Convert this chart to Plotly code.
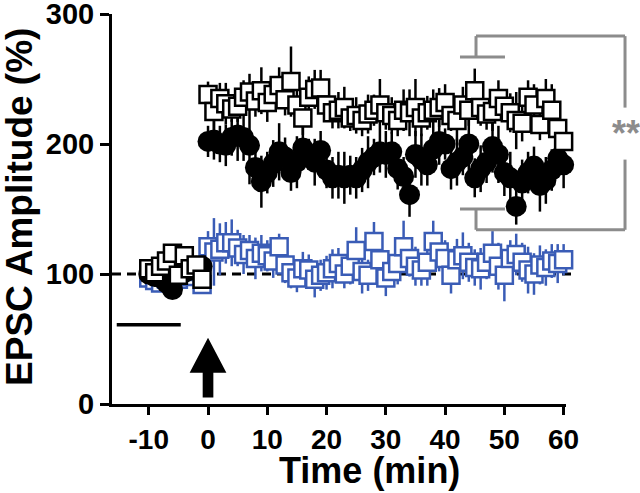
import plotly.graph_objects as go

# ---- data ----
t_base = list(range(-10, 0))
t_post = list(range(0, 61))
time = t_base + t_post

sq_base = [104, 101, 106, 110, 116, 99, 114, 104, 107, 96]
sq_post = [238, 225, 235, 231, 227, 229, 236, 240, 233, 241,
           232, 238, 245, 234, 248, 230, 220, 236, 242, 243,
           230, 224, 226, 228, 220, 222, 218, 223, 226, 230,
           224, 222, 218, 226, 224, 228, 220, 224, 226, 228,
           232, 222, 218, 230, 226, 241, 228, 223, 225, 235,
           229, 224, 218, 216, 236, 230, 215, 235, 226, 212,
           202]
sq_err_base = [4, 4, 5, 4, 6, 4, 5, 4, 5, 4]
sq_err_post = [10, 14, 12, 16, 10, 12, 13, 14, 12, 18,
               15, 12, 14, 12, 27, 15, 13, 16, 15, 14,
               13, 12, 14, 16, 10, 14, 12, 15, 12, 20,
               13, 14, 12, 16, 18, 22, 14, 13, 16, 15,
               14, 12, 16, 14, 12, 17, 14, 12, 15, 14,
               12, 15, 22, 14, 13, 16, 12, 15, 20, 18,
               12]

ci_base = [100, 98, 97, 93, 88, 99, 101, 103, 106, 106]
ci_post = [202, 203, 200, 199, 205, 207, 205, 199, 182, 171,
           178, 185, 194, 190, 178, 186, 197, 192, 186, 195,
           180, 174, 176, 174, 176, 174, 180, 186, 190, 194,
           192, 194, 181, 175, 161, 192, 188, 184, 196, 202,
           200, 181, 186, 190, 200, 174, 181, 186, 198, 192,
           178, 174, 152, 170, 178, 183, 168, 172, 180, 189,
           184]
ci_err_base = [5, 5, 6, 5, 6, 5, 5, 6, 6, 5]
ci_err_post = [12, 15, 14, 16, 14, 20, 18, 30, 15, 20,
               16, 18, 22, 15, 14, 20, 16, 12, 18, 15,
               14, 16, 18, 20, 15, 16, 17, 20, 14, 16,
               18, 15, 16, 15, 17, 18, 20, 16, 14, 18,
               12, 16, 18, 14, 20, 15, 18, 16, 20, 22,
               18, 20, 14, 18, 16, 15, 20, 18, 16, 14,
               18]

bl_base = [97, 95, 93, 96, 95, 96, 100, 98, 102, 92]
bl_post = [121, 117, 119, 124, 124, 120, 115, 118, 112, 116,
           114, 110, 121, 107, 101, 97, 104, 103, 96, 99,
           101, 104, 108, 100, 106, 118, 102, 99, 125, 111,
           97, 102, 108, 121, 112, 106, 103, 109, 125, 117,
           112, 99, 111, 114, 109, 105, 104, 109, 116, 106,
           99, 112, 115, 109, 103, 100, 107, 105, 110, 108,
           111]
bl_err_base = [5, 5, 6, 5, 6, 5, 6, 5, 6, 6]
bl_err_post = [12, 26, 20, 16, 18, 14, 15, 12, 16, 14,
               12, 13, 10, 14, 12, 11, 13, 12, 14, 12,
               13, 15, 12, 11, 14, 18, 17, 12, 15, 16,
               14, 12, 16, 20, 14, 15, 12, 18, 16, 15,
               14, 14, 16, 18, 15, 14, 16, 13, 17, 18,
               20, 14, 16, 15, 18, 16, 15, 14, 13, 15,
               12]

squares = sq_base + sq_post
squares_err = sq_err_base + sq_err_post
circles = ci_base + ci_post
circles_err = ci_err_base + ci_err_post
blue = bl_base + bl_post
blue_err = bl_err_base + bl_err_post
for arr in (squares, squares_err, circles, circles_err, blue, blue_err):
    assert len(arr) == len(time), len(arr)

x_ticks = [-10, 0, 10, 20, 30, 40, 50, 60]
y_ticks = [0, 100, 200, 300]

BLUE = "#3a5cb6"
GRAY = "#8c8c8c"
FONT = "Liberation Sans, Arial"

fig = go.Figure()

fig.add_trace(go.Scatter(
    x=time, y=blue, mode="markers",
    error_y=dict(type="data", array=blue_err, color=BLUE, thickness=2.5, width=0),
    marker=dict(symbol="square", size=17, color="white", line=dict(color=BLUE, width=2.5)),
    showlegend=False, cliponaxis=False))

fig.add_trace(go.Scatter(
    x=time, y=circles, mode="markers",
    error_y=dict(type="data", array=circles_err, color="black", thickness=2.5, width=0),
    marker=dict(symbol="circle", size=21, color="black", line=dict(width=0)),
    showlegend=False, cliponaxis=False))

fig.add_trace(go.Scatter(
    x=time, y=squares, mode="markers",
    error_y=dict(type="data", array=squares_err, color="black", thickness=2.5, width=0),
    marker=dict(symbol="square", size=17, color="white", line=dict(color="black", width=2.5)),
    showlegend=False, cliponaxis=False))

shapes = []
# dashed 100% baseline
shapes.append(dict(type="line", xref="paper", yref="y", x0=0.0, x1=1.013, y0=100, y1=100,
                   line=dict(color="black", width=3, dash="9px,6px"), layer="below"))
# baseline period bar
shapes.append(dict(type="line", xref="x", yref="y", x0=-15.4, x1=-4.6, y0=61, y1=61,
                   line=dict(color="black", width=3.5)))
# arrow at t = 0
shapes.append(dict(type="path", xref="x", yref="y",
                   path="M -0.9,5 L 0.9,5 L 0.9,24 L 3.1,24 L 0,51 L -3.1,24 L -0.9,24 Z",
                   fillcolor="black", line=dict(width=0)))
# significance bracket
def gline(x0, y0, x1, y1):
    shapes.append(dict(type="line", xref="paper", yref="y", x0=x0, x1=x1, y0=y0, y1=y1,
                       line=dict(color=GRAY, width=3)))
gline(0.7665, 267, 0.8656, 267)
gline(0.8018, 267, 0.8018, 283)
gline(0.8018, 283, 1.130, 283)
gline(1.130, 283, 1.130, 228)
gline(0.7665, 150, 0.8656, 150)
gline(0.8018, 150, 0.8018, 134)
gline(0.8018, 134, 1.130, 134)
gline(1.130, 134, 1.130, 188)

fig.update_layout(
    width=640, height=493,
    margin=dict(l=112, r=74, t=14, b=89),
    paper_bgcolor="white", plot_bgcolor="white",
    shapes=shapes,
    annotations=[
        dict(text="**", xref="paper", yref="y", x=1.097, y=208,
             xanchor="left", yanchor="middle", showarrow=False,
             font=dict(family=FONT, size=36, color=GRAY, weight="bold")),
        dict(text="Time (min)", xref="paper", yref="paper", x=0.568, y=-0.17,
             xanchor="center", yanchor="middle", showarrow=False,
             font=dict(family=FONT, size=36, color="black", weight="bold")),
        dict(text="EPSC Amplitude (%)", xref="paper", yref="paper", x=-0.205, y=0.505,
             xanchor="center", yanchor="middle", showarrow=False, textangle=-90,
             font=dict(family=FONT, size=37, color="black", weight="bold")),
    ],
    font=dict(family=FONT, color="black"),
)
fig.update_xaxes(
    range=[-16.2, 60.4], showline=True, linewidth=3, linecolor="black",
    ticks="outside", ticklen=8, tickwidth=3, tickcolor="black",
    tickvals=x_ticks, ticktext=[str(v) for v in x_ticks],
    showgrid=False, zeroline=False, automargin=False, ticklabeloverflow="allow",
    tickfont=dict(family=FONT, size=28, weight="bold"),
)
fig.update_yaxes(
    range=[0, 300], showline=True, linewidth=3, linecolor="black",
    ticks="outside", ticklen=9, tickwidth=3, tickcolor="black",
    tickvals=y_ticks, ticktext=[str(v) for v in y_ticks],
    showgrid=False, zeroline=False, automargin=False, ticklabeloverflow="allow",
    tickfont=dict(family=FONT, size=29, weight="bold"),
)

fig.write_html("out.html", config={"displayModeBar": False},
               post_script="document.body.style.margin='0';")
